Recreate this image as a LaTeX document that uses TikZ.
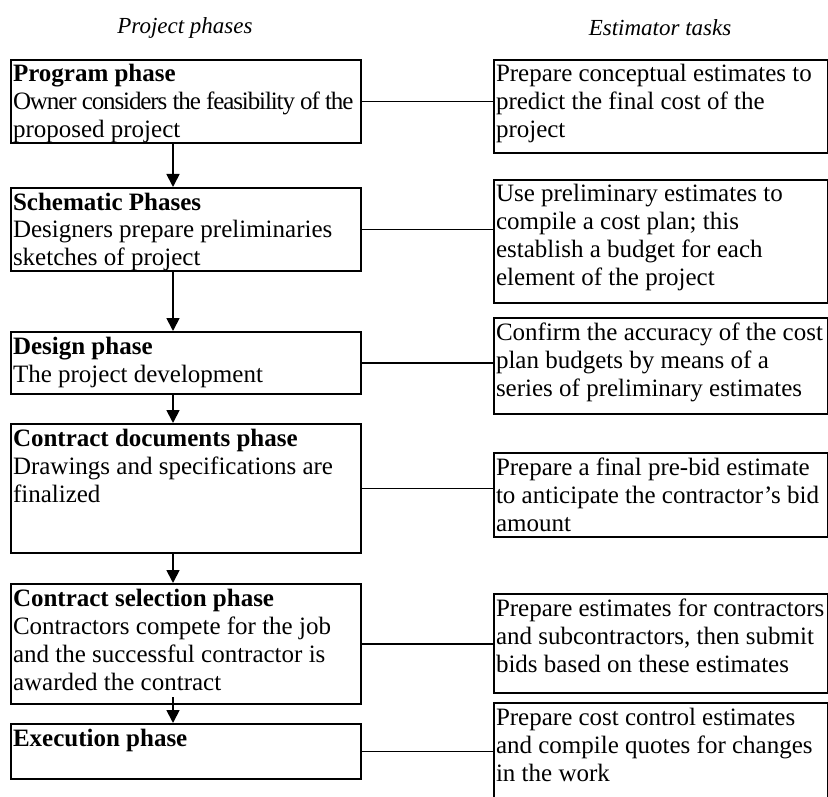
\documentclass[tikz,border=0pt]{standalone}
\usepackage{fontspec}
\setmainfont{Liberation Serif}
\usetikzlibrary{arrows.meta, calc}

\newcommand{\boxtext}[3]{\parbox[c][#1][t]{#2}{\raggedright\rule{0pt}{11pt}#3}}

\tikzset{
	phasebox/.style={draw, line width=1pt, anchor=north west, inner ysep=0pt, inner xsep=1pt,
		font=\fontsize{12.5}{14}\selectfont},
	taskbox/.style={phasebox},
	colhead/.style={font=\fontsize{11.5}{13}\selectfont\itshape},
	flow/.style={-{Triangle[length=6.5pt,width=6.5pt]}, line width=0.9pt},
	link/.style={line width=0.9pt}
}

\begin{document}
\begin{tikzpicture}[x=0.5pt,y=-0.5pt]
	\useasboundingbox (0,0) rectangle (828,796);
	\clip (0,0) rectangle (828,796);
	
	\coordinate (H1) at (185,28);
	\coordinate (H2) at (660,28);
	
	\coordinate (P1) at (10,59);
	\coordinate (P2) at (10,187);
	\coordinate (P3) at (10,331);
	\coordinate (P4) at (10,423);
	\coordinate (P5) at (10,583);
	\coordinate (P6) at (10,723);
	
	\coordinate (T1) at (493,59);
	\coordinate (T2) at (493,179);
	\coordinate (T3) at (493,317);
	\coordinate (T4) at (493,452);
	\coordinate (T5) at (493,593);
	\coordinate (T6) at (493,702);
	
	\coordinate (ax) at (173,0);
	
	\node[colhead] (h1) at (H1) {Project phases};
	\node[colhead] (h2) at (H2) {Estimator tasks};
	
	\node[phasebox] (prog) at (P1) {\boxtext{41.5pt}{173pt}{\textbf{Program phase}\\\mbox{\addfontfeatures{LetterSpace=-4.4}Owner considers the feasibility of the}\\proposed project}};
	\node[phasebox] (schem) at (P2) {\boxtext{41.5pt}{173pt}{\textbf{Schematic Phases}\\Designers prepare preliminaries\\sketches of project}};
	\node[phasebox] (design) at (P3) {\boxtext{31pt}{173pt}{\textbf{Design phase}\\The project development}};
	\node[phasebox] (docs) at (P4) {\boxtext{64.5pt}{173pt}{\textbf{Contract documents phase}\\Drawings and specifications are\\finalized}};
	\node[phasebox] (select) at (P5) {\boxtext{60pt}{173pt}{\textbf{Contract selection phase}\\Contractors compete for the job\\and the successful contractor is\\awarded the contract}};
	\node[phasebox] (exec) at (P6) {\boxtext{27.5pt}{173pt}{\textbf{Execution phase}}};
	
	\node[taskbox] (t1) at (T1) {\boxtext{46.5pt}{165pt}{Prepare conceptual estimates to\\predict the final cost of the\\project}};
	\node[taskbox] (t2) at (T2) {\boxtext{61.5pt}{165pt}{Use preliminary estimates to\\compile a cost plan; this\\establish a budget for each\\element of the project}};
	\node[taskbox] (t3) at (T3) {\boxtext{48pt}{165pt}{\mbox{Confirm the accuracy of the cost}\\plan budgets by means of a\\series of preliminary estimates}};
	\node[taskbox] (t4) at (T4) {\boxtext{42pt}{165pt}{Prepare a final pre-bid estimate\\\mbox{to anticipate the contractor's bid}\\amount}};
	\node[taskbox] (t5) at (T5) {\boxtext{49.5pt}{165pt}{\mbox{Prepare estimates for contractors}\\and subcontractors, then submit\\bids based on these estimates}};
	\node[taskbox] (t6) at (T6) {\boxtext{52pt}{165pt}{Prepare cost control estimates\\and compile quotes for changes\\in the work}};
	
	\draw[flow] (prog.south -| ax) -- (schem.north -| ax);
	\draw[flow] (schem.south -| ax) -- (design.north -| ax);
	\draw[flow] (design.south -| ax) -- (docs.north -| ax);
	\draw[flow] (docs.south -| ax) -- (select.north -| ax);
	\draw[flow, shorten <=-4pt] (select.south -| ax) -- (exec.north -| ax);
	
	\draw[link] (prog.east) -- (prog.east -| t1.west);
	\draw[link] (schem.east) -- (schem.east -| t2.west);
	\draw[link] (design.east) -- (design.east -| t3.west);
	\draw[link] (docs.east) -- (docs.east -| t4.west);
	\draw[link] (select.east) -- (select.east -| t5.west);
	\draw[link] (exec.east) -- (exec.east -| t6.west);
\end{tikzpicture}
\end{document}
